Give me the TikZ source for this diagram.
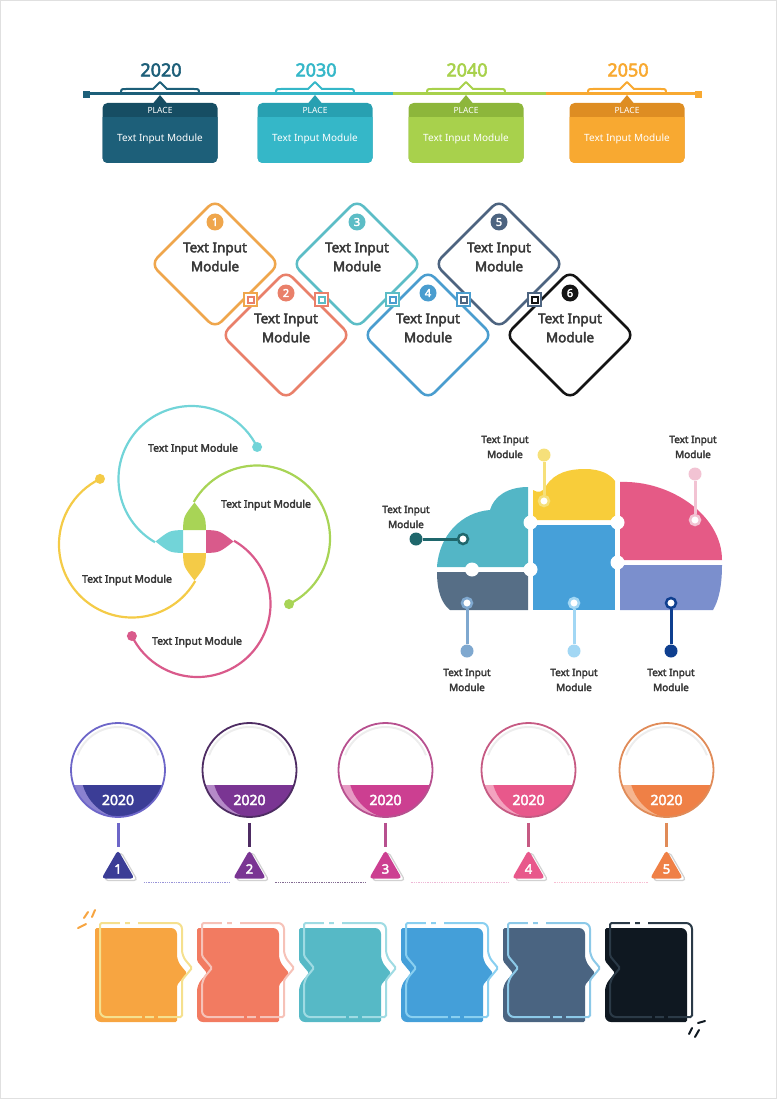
\documentclass[tikz,border=0pt]{standalone}
\usepackage{fontspec}
\setmainfont{Noto Sans}[AutoFakeBold=3]
\usetikzlibrary{shapes.geometric}

% timeline
\definecolor{yrA}{HTML}{1D5F79}
\definecolor{yrAd}{HTML}{164D63}
\definecolor{yrB}{HTML}{35B7C8}
\definecolor{yrBd}{HTML}{28A0B1}
\definecolor{yrC}{HTML}{A8D14C}
\definecolor{yrCd}{HTML}{8DB63B}
\definecolor{yrD}{HTML}{F8A931}
\definecolor{yrDd}{HTML}{DE8D22}
% diamonds
\definecolor{dmA}{HTML}{EFA64C}
\definecolor{dmB}{HTML}{E9806A}
\definecolor{dmC}{HTML}{5CBDC6}
\definecolor{dmD}{HTML}{4A9DCF}
\definecolor{dmE}{HTML}{4D6480}
\definecolor{dmF}{HTML}{141414}
\definecolor{txtgray}{HTML}{383838}
% spiral
\definecolor{spCyan}{HTML}{72D4D8}
\definecolor{spGreen}{HTML}{A8D456}
\definecolor{spYellow}{HTML}{F4CB47}
\definecolor{spPink}{HTML}{D95A8B}
% cloud
\definecolor{clTeal}{HTML}{53B6C6}
\definecolor{clYellow}{HTML}{F8CD3A}
\definecolor{clPink}{HTML}{E55A86}
\definecolor{clSlate}{HTML}{566E86}
\definecolor{clBlue}{HTML}{46A0D9}
\definecolor{clLav}{HTML}{7B8FCD}
\definecolor{pinYellow}{HTML}{F6E07A}
\definecolor{pinPink}{HTML}{F2C3D3}
\definecolor{pinTeal}{HTML}{1F676C}
\definecolor{pinSlate}{HTML}{7FA8CF}
\definecolor{pinBlue}{HTML}{A2D7F4}
\definecolor{pinNavy}{HTML}{0F3F8F}
% year circles
\definecolor{ciA}{HTML}{3B3D96}
\definecolor{ciAl}{HTML}{8B82D0}
\definecolor{ciAo}{HTML}{6D66C8}
\definecolor{ciB}{HTML}{7A3593}
\definecolor{ciBl}{HTML}{B58AC8}
\definecolor{ciBo}{HTML}{4E2C63}
\definecolor{ciC}{HTML}{CC3F91}
\definecolor{ciCl}{HTML}{E79AC4}
\definecolor{ciCo}{HTML}{B7508F}
\definecolor{ciD}{HTML}{E8588B}
\definecolor{ciDl}{HTML}{F3A3BF}
\definecolor{ciDo}{HTML}{C65A83}
\definecolor{ciE}{HTML}{EF8046}
\definecolor{ciEl}{HTML}{F6B690}
\definecolor{ciEo}{HTML}{E08B58}
% blocks
\definecolor{bkA}{HTML}{F7A541}
\definecolor{boA}{HTML}{F5E08E}
\definecolor{bkB}{HTML}{F27B61}
\definecolor{boB}{HTML}{F6C2B8}
\definecolor{bkC}{HTML}{56B9C6}
\definecolor{boC}{HTML}{9FDBE3}
\definecolor{bkD}{HTML}{449FD9}
\definecolor{boD}{HTML}{89CFF0}
\definecolor{bkE}{HTML}{4A6481}
\definecolor{boE}{HTML}{8CC9E8}
\definecolor{bkF}{HTML}{0F1821}
\definecolor{boF}{HTML}{2B3A47}

\tikzset{
  yeartxt/.style={font=\fontsize{18}{20}\selectfont\bfseries},
  placetxt/.style={text=white, font=\fontsize{8.5}{10}\selectfont},
  boxtxt/.style={text=white, font=\fontsize{10}{12}\selectfont},
  dmline/.style={line width=2.5pt, rounded corners=9pt},
  dmnum/.style={circle, inner sep=0pt, minimum size=17pt, text=white, font=\fontsize{11}{11}\selectfont\bfseries},
  dmtxt/.style={align=center, text=txtgray, font=\fontsize{13.5}{19}\selectfont\bfseries},
  linkbox/.style={fill=white, line width=2pt, minimum size=13pt, inner sep=0pt},
  arcline/.style={line width=2.2pt},
  enddot/.style={circle, inner sep=0pt, minimum size=10pt},
  lbl/.style={text=txtgray, font=\fontsize{10.5}{12}\selectfont\bfseries},
  lbltwo/.style={align=center, text=txtgray, font=\fontsize{10}{15}\selectfont\bfseries},
  pinring/.style={circle, fill=white, line width=2.5pt, inner sep=0pt, minimum size=10pt},
  pindot/.style={circle, inner sep=0pt, minimum size=13pt},
  pinline/.style={line width=3pt},
  yrtxt/.style={text=white, font=\fontsize{14}{14}\selectfont\bfseries},
  badge/.style={regular polygon, regular polygon sides=3, minimum size=38pt, inner sep=0pt, rounded corners=3.5pt, font=\fontsize{13}{13}\selectfont\bfseries},
  linkline/.style={densely dotted, line width=1.3pt},
  spark/.style={line width=2pt, line cap=round},
}

\begin{document}
\begin{tikzpicture}[x=1pt,y=-1pt]
\useasboundingbox (0,0) rectangle (777,1099);
\draw[black!12] (0.5,0.5) rectangle (776.5,1098.5);

% timeline
\foreach \cx/\xa/\xb/\c/\cd/\yr [count=\i] in {160/86/240/yrA/yrAd/2020, 315/240/393/yrB/yrBd/2030, 466/393/546/yrC/yrCd/2040, 627/546/698/yrD/yrDd/2050}{
  \draw[\c, line width=3pt] (\xa,94) -- (\xb,94);
  \fill[\cd, rounded corners=5pt] (\cx-57.5,103) rectangle (\cx+57.5,163);
  \begin{scope}
    \clip (\cx-60,118) rectangle (\cx+60,166);
    \fill[\c, rounded corners=5pt] (\cx-57.5,103) rectangle (\cx+57.5,163);
  \end{scope}
  \fill[\cd] (\cx-7,103.5) -- (\cx,95) -- (\cx+7,103.5) -- cycle;
  \draw[\c, line width=2pt, line join=round] (\cx-39,94) .. controls (\cx-39,89) .. (\cx-34,89) -- (\cx-7,89) -- (\cx,82) -- (\cx+7,89) -- (\cx+34,89) .. controls (\cx+39,89) .. (\cx+39,94);
  \node[yeartxt, text=\c] (year\i) at (\cx+1,70) {\yr};
  \node[placetxt] (place\i) at (\cx,110.5) {PLACE};
  \node[boxtxt] (body\i) at (\cx,139) {Text Input Module};
}
\fill[yrA] (83,91) rectangle (90,98);
\fill[yrD] (695,91) rectangle (702,98);

% diamonds
\foreach \cx/\cy/\c/\n in {215/264/dmA/1, 286/335/dmB/2, 357/264/dmC/3, 428/335/dmD/4, 499/264/dmE/5, 570/335/dmF/6}{
  \draw[dmline, \c] (\cx-64,\cy) -- (\cx,\cy-64) -- (\cx+64,\cy) -- (\cx,\cy+64) -- cycle;
  \node[dmnum, fill=\c] (num\n) at (\cx,\cy-42) {\n};
  \node[dmtxt] (dtxt\n) at (\cx,\cy-7) {Text Input\\Module};
}
\foreach \mx/\ca/\cb [count=\k] in {250.5/dmA/dmB, 321.5/dmB/dmC, 392.5/dmC/dmD, 463.5/dmD/dmE, 534.5/dmE/dmF}{
  \node[linkbox, draw=\ca] (link\k) at (\mx,299.5) {};
  \node[draw=\cb, line width=2pt, minimum size=6pt, inner sep=0pt] (core\k) at (link\k) {};
}

% spiral
\coordinate (hub) at (194.5,541.5);
\foreach \c/\rot in {spPink/0, spGreen/90, spCyan/180, spYellow/270}
  \fill[\c, shift={(hub)}, rotate=\rot] (11.5,-11.5) .. controls (25,-11) .. (39,0) .. controls (25,11) .. (11.5,11.5) -- cycle;
\draw[arcline, spPink] (197.5,604) ++(-60:73) arc[start angle=-60, end angle=154, radius=73] node[enddot, fill=spPink] (endP) {};
\draw[arcline, spYellow] (132,544.5) ++(30:73) arc[start angle=30, end angle=244, radius=73] node[enddot, fill=spYellow] (endY) {};
\draw[arcline, spCyan] (191.5,479) ++(120:73) arc[start angle=120, end angle=334, radius=73] node[enddot, fill=spCyan] (endC) {};
\draw[arcline, spGreen] (257,538.5) ++(210:73) arc[start angle=210, end angle=424, radius=73] node[enddot, fill=spGreen] (endG) {};
\node[lbl] (lblC) at (193,449) {Text Input Module};
\node[lbl] (lblG) at (266,505) {Text Input Module};
\node[lbl] (lblY) at (127,580) {Text Input Module};
\node[lbl] (lblP) at (197,642) {Text Input Module};

% cloud
\fill[clTeal] (437,567) .. controls (439,535) and (462,512) .. (490,510) .. controls (494,496) and (508,487) .. (528,487) -- (528,567) -- cycle;
\fill[clYellow] (533,520) -- (533,490) .. controls (538,493) and (542,493) .. (546,486) .. controls (555,472) and (570,469) .. (585,469) .. controls (600,469) and (610,474) .. (615,481) -- (615,520) -- cycle;
\fill[clPink] (620,560) -- (620,482) .. controls (670,480) and (722,515) .. (722,560) -- cycle;
\fill[clSlate] (528,572) -- (437,572) .. controls (437,590) and (441,603) .. (450,610) -- (528,610) -- cycle;
\fill[clBlue] (533,525) rectangle (615,610);
\fill[clLav] (620,565) -- (722,565) .. controls (722,585) and (719,600) .. (713,610) -- (620,610) -- cycle;
\foreach \jx/\jy in {530.5/522.5, 617.5/522.5, 472/569.5, 530.5/569.5, 617.5/562.5}
  \fill[white] (\jx,\jy) circle[radius=7];

\node[pinring, draw=pinYellow] (ringY) at (544,501) {};
\node[pindot, fill=pinYellow] (dotY) at (544,455) {};
\draw[pinline, pinYellow] (ringY) -- (dotY);
\node[lbltwo] (textY) at (505,447) {Text Input\\Module};

\node[pinring, draw=pinPink] (ringP) at (695,520) {};
\node[pindot, fill=pinPink] (dotP) at (695,474) {};
\draw[pinline, pinPink] (ringP) -- (dotP);
\node[lbltwo] (textP) at (693,447) {Text Input\\Module};

\node[pinring, draw=pinTeal] (ringT) at (463,539) {};
\node[pindot, fill=pinTeal] (dotT) at (416,539) {};
\draw[pinline, pinTeal] (ringT) -- (dotT);
\node[lbltwo] (textT) at (406,517) {Text Input\\Module};

\node[pinring, draw=pinSlate] (ringS) at (467,603) {};
\node[pindot, fill=pinSlate] (dotS) at (467,651) {};
\draw[pinline, pinSlate] (ringS) -- (dotS);
\node[lbltwo] (textS) at (467,680) {Text Input\\Module};

\node[pinring, draw=pinBlue] (ringB) at (574,603) {};
\node[pindot, fill=pinBlue] (dotB) at (574,651) {};
\draw[pinline, pinBlue] (ringB) -- (dotB);
\node[lbltwo] (textB) at (574,680) {Text Input\\Module};

\node[pinring, draw=pinNavy] (ringN) at (671,603) {};
\node[pindot, fill=pinNavy] (dotN) at (671,651) {};
\draw[pinline, pinNavy] (ringN) -- (dotN);
\node[lbltwo] (textN) at (671,680) {Text Input\\Module};

% year circles
\foreach \x/\cf/\cl/\co [count=\i] in {118/ciA/ciAl/ciAo, 249.5/ciB/ciBl/ciBo, 385.5/ciC/ciCl/ciCo, 528.5/ciD/ciDl/ciDo, 666.5/ciE/ciEl/ciEo}{
  \begin{scope}
    \clip (\x,770) circle[radius=47];
    \fill[\cl] (\x-50,785) rectangle (\x+50,820);
    \clip (\x-50,785) rectangle (\x+50,820);
    \fill[\cf] (\x+10,772) circle[radius=47];
  \end{scope}
  \draw[black!7, line width=2pt] (\x,770) ++(200:43) arc[start angle=200, end angle=340, radius=43];
  \node[circle, draw=\co, line width=1.8pt, minimum size=94pt, inner sep=0pt] (ring\i) at (\x,770) {};
  \node[yrtxt] (yr\i) at (\x,800) {2020};
  \node[badge, draw=black!18, line width=1.2pt] (shade\i) at (\x+3,871) {};
  \node[badge, fill=\cf, text=white] (badge\i) at (\x,869) {\i};
  \draw[\co, line width=3pt] ([yshift=-5pt]ring\i.south) -- ([yshift=3pt]badge\i.corner 1);
}
\foreach \a/\b/\c in {1/2/ciAo, 2/3/ciBo, 3/4/ciCl, 4/5/ciDl}
  \draw[linkline, \c!70] ([shift={(9,4)}]badge\a.corner 3) -- ([shift={(-2,4)}]badge\b.corner 2);

% blocks
\foreach \x/\nl/\nr/\cf/\co in {95/0/10/bkA/boA, 197/10/10/bkB/boB, 299/10/10/bkC/boC, 401/10/10/bkD/boD, 503/10/10/bkE/boE, 605/10/0/bkF/boF}{
  \fill[\cf] (\x+41,928) [rounded corners=6pt] -- (\x+82,928) -- (\x+82,961)
    [rounded corners=1.5pt] -- (\x+82+\nr,973) -- (\x+82,985) -- (\x+82,1022)
    [rounded corners=6pt] -- (\x,1022) -- (\x,985)
    [rounded corners=1.5pt] -- (\x+\nl,973) -- (\x,961) -- (\x,928)
    [rounded corners=6pt] -- cycle;
  \draw[\co, line width=2pt, shift={(5,-5)}] (\x+41,928) [rounded corners=6pt] -- (\x+82,928) -- (\x+82,961)
    [rounded corners=1.5pt] -- (\x+82+\nr,973) -- (\x+82,985) -- (\x+82,1022)
    [rounded corners=6pt] -- (\x,1022) -- (\x,985)
    [rounded corners=1.5pt] -- (\x+\nl,973) -- (\x,961) -- (\x,928)
    [rounded corners=6pt] -- cycle;
  \draw[white, line width=3pt] (\x+25,923) -- (\x+30,923) (\x+35,923) -- (\x+43,923);
  \draw[\cf, line width=3pt] (\x+47,1017) -- (\x+50,1017) (\x+59,1017) -- (\x+63,1017);
}
\draw[spark, bkA] (78,928) -- (86,924) (84,918) -- (88,912) (92,917) -- (95,910);
\draw[spark, bkF] (689,1034) -- (692,1028) (695,1037) -- (699,1030) (698,1023) -- (705,1021);

\end{tikzpicture}
\end{document}
